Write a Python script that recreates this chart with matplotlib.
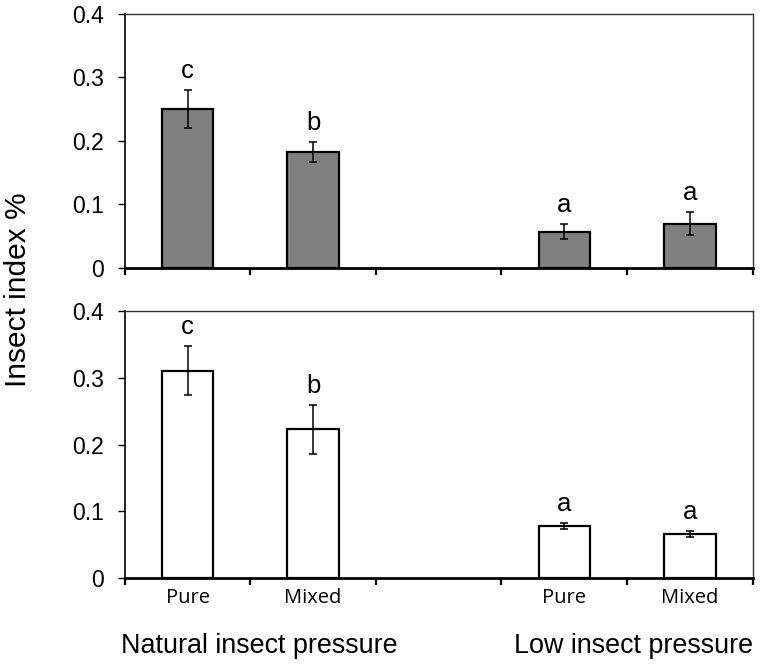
import numpy as np
import matplotlib
matplotlib.use("Agg")
import matplotlib.pyplot as plt

plt.rcParams['font.family'] = ['Liberation Sans', 'DejaVu Sans']

# slot positions: Pure, Mixed, (gap), Pure, Mixed
positions = [0.5, 1.5, 3.5, 4.5]
categories = ["Pure", "Mixed", "Pure", "Mixed"]
groups = ["Natural insect pressure", "Low insect pressure"]

top_vals = [0.251, 0.183, 0.057, 0.070]
top_err = [0.030, 0.016, 0.012, 0.018]
top_letters = ["c", "b", "a", "a"]

bot_vals = [0.311, 0.223, 0.078, 0.066]
bot_err = [0.037, 0.037, 0.005, 0.004]
bot_letters = ["c", "b", "a", "a"]

fig = plt.figure(figsize=(7.61, 6.65), dpi=100)
ax1 = fig.add_axes([0.164, 0.597, 0.825, 0.382])
ax2 = fig.add_axes([0.164, 0.131, 0.825, 0.401])


def panel(ax, vals, err, letters, color):
    ax.bar(positions, vals, width=0.41, color=color, edgecolor="black", linewidth=1.6, zorder=2)
    ax.errorbar(positions, vals, yerr=err, fmt="none", ecolor="black",
                elinewidth=1.1, capsize=3, capthick=1.1, zorder=3)
    for x, v, e, t in zip(positions, vals, err, letters):
        ax.annotate(t, (x, v + e), xytext=(0, 5), textcoords="offset points",
                    ha="center", va="bottom", fontsize=18.5)
    ax.set_xlim(0, 5)
    ax.set_ylim(0, 0.4)
    ax.set_yticks([0, 0.1, 0.2, 0.3, 0.4])
    ax.set_yticklabels(["0", "0.1", "0.2", "0.3", "0.4"])
    ax.set_xticks(np.arange(0, 6))
    ax.set_xticklabels([])
    ax.tick_params(axis="y", direction="out", length=5, width=1, labelsize=16.5, pad=10)
    ax.tick_params(axis="x", direction="out", length=5, width=1.6)
    ax.spines["left"].set_linewidth(1.2)
    ax.spines["bottom"].set_linewidth(2)
    for s in ["top", "right"]:
        ax.spines[s].set_linewidth(1.0)
        ax.spines[s].set_color("#333333")


panel(ax1, top_vals, top_err, top_letters, "#808080")
panel(ax2, bot_vals, bot_err, bot_letters, "white")

ax2.set_xticks(positions, minor=True)
ax2.set_xticklabels(categories, minor=True, fontsize=14.5, family=["Open Sans", "DejaVu Sans"])
ax2.tick_params(axis="x", which="minor", length=0, pad=7)

fig.text(0.159, 0.029, groups[0], fontsize=19.4, ha="left", va="center")
fig.text(0.989, 0.029, groups[1], fontsize=19.4, ha="right", va="center")
fig.text(0.024, 0.564, "Insect index %", fontsize=21.5, rotation=90, ha="center", va="center")

fig.savefig("out.png", dpi=100)
